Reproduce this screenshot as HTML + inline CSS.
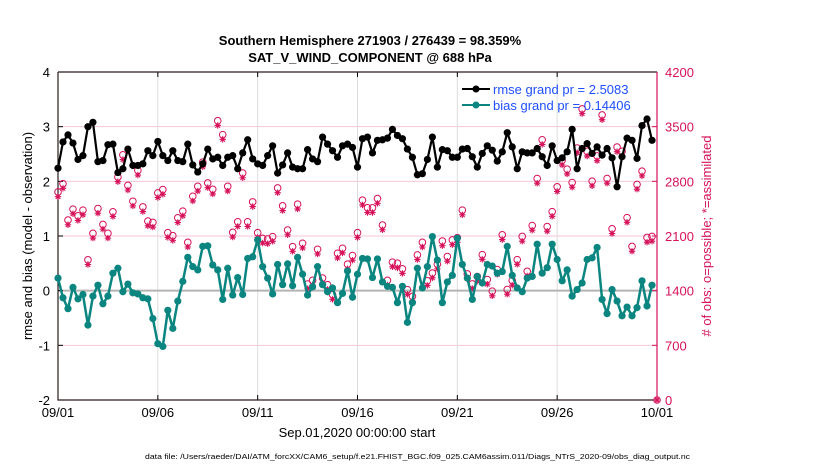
<!DOCTYPE html>
<html><head><meta charset="utf-8"><style>
body{margin:0;background:#fff;}
svg{display:block;font-family:"Liberation Sans",Arial,sans-serif;}
</style></head><body>
<svg id="chart" width="830" height="470" viewBox="0 0 830 470">
<rect x="0" y="0" width="830" height="470" fill="#fff"/>
<text x="370" y="45" text-anchor="middle" font-size="13" font-weight="bold">Southern Hemisphere 271903 / 276439 = 98.359%</text>
<text x="370" y="62" text-anchor="middle" font-size="13" font-weight="bold">SAT_V_WIND_COMPONENT @ 688 hPa</text>
<g id="grid"></g>
<g id="axes"></g>
<g id="obs"></g>
<g id="lines"></g>
<text transform="translate(32,236) rotate(-90)" text-anchor="middle" font-size="13">rmse and bias (model - observation)</text>
<text transform="translate(711,236) rotate(-90)" text-anchor="middle" font-size="13" fill="#d6125a"># of obs: o=possible; *=assimilated</text>
<text x="357" y="437" text-anchor="middle" font-size="13">Sep.01,2020 00:00:00 start</text>
<text x="145" y="459" font-size="7.5" textLength="545" lengthAdjust="spacingAndGlyphs">data file: /Users/raeder/DAI/ATM_forcXX/CAM6_setup/f.e21.FHIST_BGC.f09_025.CAM6assim.011/Diags_NTrS_2020-09/obs_diag_output.nc</text>
<g>
<g>
<line x1="462" y1="89" x2="490" y2="89" stroke="#000" stroke-width="2"/>
<circle cx="476" cy="89" r="3.5" fill="#000"/>
<text x="493" y="94" font-size="13" fill="#1f4fff">rmse grand pr = 2.5083</text></g>
<g>
<line x1="462" y1="105" x2="490" y2="105" stroke="#0a8580" stroke-width="2"/>
<circle cx="476" cy="105" r="3.5" fill="#0a8580"/>
<text x="493" y="110" font-size="13" fill="#1f4fff">bias grand pr = 0.14406</text></g>
</g>
</svg>
<script>
const xTickLabels=["09/01","09/06","09/11","09/16","09/21","09/26","10/01"];
const leftTicks=[-2,-1,0,1,2,3,4];
const rightTicks=[0,700,1400,2100,2800,3500,4200];
const rmse=[2.24,2.72,2.85,2.70,2.40,2.47,3.00,3.08,2.36,2.38,2.67,2.68,2.16,2.23,2.59,2.29,2.29,2.32,2.56,2.47,2.73,2.47,2.38,2.56,2.38,2.36,2.68,2.30,2.17,2.32,2.59,2.41,2.44,2.29,2.44,2.47,2.23,2.52,2.76,2.41,2.32,2.29,
2.47,2.65,2.15,2.30,2.52,2.26,2.23,2.23,2.58,2.41,2.36,2.81,2.68,2.56,2.44,2.65,2.68,2.62,2.26,2.78,2.81,2.52,2.75,2.76,2.79,2.95,2.84,2.78,2.59,2.44,2.12,2.14,2.40,2.81,2.26,2.58,2.56,2.44,2.44,2.59,
2.60,2.45,2.26,2.51,2.65,2.57,2.37,2.54,2.89,2.63,2.23,2.54,2.52,2.52,2.60,2.45,2.29,2.65,2.38,2.43,2.54,2.95,2.23,2.60,2.69,2.51,2.63,2.48,2.60,2.43,1.90,2.45,2.79,2.75,2.42,3.02,3.14,2.75];
const bias=[0.23,-0.13,-0.33,0.06,-0.15,-0.07,-0.63,-0.10,0.10,-0.24,-0.10,0.32,0.41,-0.02,0.12,-0.04,-0.06,-0.13,-0.15,-0.51,-0.97,-1.02,-0.36,-0.69,-0.19,0.17,0.61,0.44,0.38,0.81,0.82,0.47,0.38,-0.16,0.41,-0.08,0.24,-0.07,0.59,0.62,0.93,0.44,
0.23,-0.06,0.48,0.11,0.49,0.09,0.61,0.30,-0.08,0.07,0.44,0.11,-0.02,0.05,-0.22,-0.05,0.36,-0.12,0.30,0.59,0.58,0.24,0.58,0.16,0.08,0.06,-0.22,0.08,-0.58,-0.22,0.41,0.05,0.44,0.99,0.56,-0.22,0.16,0.28,0.96,0.48,
0.23,-0.16,0.26,0.14,0.48,0.45,0.32,0.35,0.81,0.28,0.05,-0.02,0.23,0.26,0.85,0.32,0.42,0.85,0.57,0.18,0.38,-0.10,0.02,0.14,0.57,0.60,0.79,-0.16,-0.42,0.02,-0.19,-0.46,-0.30,-0.46,-0.31,0.18,-0.28,0.10];
const obsPossible=[2664,2770,2304,2444,2359,2431,1795,2134,2452,2248,2134,2410,2855,3139,2749,2545,2940,2473,2291,2274,2652,2694,2142,2104,2333,2418,2019,2609,2736,3046,2779,2698,3576,3398,2736,2147,2282,2906,2282,2537,2142,2070,
2062,2092,2715,2486,2176,1964,2507,2007,1485,1532,1930,1561,1476,1349,1879,1943,1739,1850,2142,2558,2461,2461,2579,2240,1532,1765,1752,1680,1413,1328,1858,2019,1527,1625,1739,2036,1837,2049,2079,2431,
1614,1487,1581,1861,1543,1394,1670,2115,1415,1530,1797,2094,1648,2234,2836,3332,2221,2412,2730,3070,2955,2785,3226,3727,3184,2802,3125,3650,2836,2192,3239,3184,2335,1966,2760,2930,2081,2094,0];
const obsAssim=[2604,2710,2244,2384,2299,2371,1735,2074,2392,2188,2074,2350,2795,3079,2689,2485,2880,2413,2231,2214,2592,2634,2082,2044,2273,2358,1959,2549,2676,2986,2719,2638,3516,3338,2676,2087,2222,2846,2222,2477,2082,2010,
2002,2032,2655,2426,2116,1904,2447,1947,1425,1472,1870,1501,1416,1289,1819,1883,1679,1790,2082,2498,2401,2401,2519,2180,1472,1705,1692,1620,1353,1268,1798,1959,1467,1565,1679,1976,1777,1989,2019,2371,
1554,1427,1521,1801,1483,1334,1610,2055,1355,1470,1737,2034,1588,2174,2776,3272,2161,2352,2670,3010,2895,2725,3166,3667,3124,2742,3065,3590,2776,2132,3179,3124,2275,1906,2700,2870,2021,2034,0];

const NS="http://www.w3.org/2000/svg";
const L=58,R=657,T=72,B=400;
const xS=i=>L+i*(R-L)/120;
const yL=v=>B-(v+2)*(B-T)/6;
const yR=c=>B-c*(B-T)/4200;
function mk(tag,attrs,parent){const e=document.createElementNS(NS,tag);for(const k in attrs)e.setAttribute(k,attrs[k]);parent.appendChild(e);return e;}
const grid=document.getElementById('grid'),axes=document.getElementById('axes'),obs=document.getElementById('obs'),lines=document.getElementById('lines');
const MAG="#d6125a";
leftTicks.forEach(v=>{
  if(v>-2&&v<4&&v!==0){const g=mk('line',{x1:L,x2:R,y1:yL(v),y2:yL(v),stroke:'#f5c6d8','stroke-width':1},grid);
  
  }
  const t=mk('text',{x:L-8,y:yL(v)+5,'text-anchor':'end','font-size':13},axes);t.textContent=v;
  
  
  const tk=mk('line',{x1:L,x2:L+5,y1:yL(v),y2:yL(v),stroke:'#000'},axes);
  
  
});
xTickLabels.forEach((lab,k)=>{
  const x=xS(k*20);
  if(k>0&&k<6){const g=mk('line',{x1:x,x2:x,y1:T,y2:B,stroke:'#dcdcdc','stroke-width':1},grid);
  
  }
  const tk=mk('line',{x1:x,x2:x,y1:B,y2:B-5,stroke:'#000'},axes);
  
  
  const tt=mk('line',{x1:x,x2:x,y1:T,y2:T+5,stroke:'#000'},axes);
  
  
  const t=mk('text',{x:x,y:B+17,'text-anchor':'middle','font-size':13},axes);t.textContent=lab;
  
  
});
rightTicks.forEach(c=>{
  const t=mk('text',{x:R+8,y:yR(c)+5,'font-size':13,fill:MAG},axes);t.textContent=c;
  
  
  const tk=mk('line',{x1:R-5,x2:R,y1:yR(c),y2:yR(c),stroke:MAG},axes);
  
  
});
const zl=mk('line',{x1:L,x2:R,y1:yL(0),y2:yL(0),stroke:'#b4b4b4','stroke-width':2},grid);


const ax1=mk('path',{d:`M${L},${T}L${L},${B}L${R},${B}M${L},${T}L${R},${T}`,fill:'none',stroke:'#2a1a1a','stroke-width':1.2},axes);


const ax2=mk('line',{x1:R,x2:R,y1:T,y2:B,stroke:MAG,'stroke-width':1.2},axes);



obsPossible.forEach((c,i)=>{
  const e=mk('circle',{cx:xS(i),cy:yR(c),r:3.3,fill:'none',stroke:MAG,'stroke-width':1},obs);
  
  
});
obsAssim.forEach((c,i)=>{
  const x=xS(i),y=yR(c),s=3.2,d=2.3;
  const e=mk('path',{d:`M${x-s},${y}H${x+s}M${x},${y-s}V${y+s}M${x-d},${y-d}L${x+d},${y+d}M${x-d},${y+d}L${x+d},${y-d}`,stroke:MAG,'stroke-width':1.1,fill:'none'},obs);
  
  
});
function series(vals,color,name,w){
  const p=mk('polyline',{points:vals.map((v,i)=>xS(i)+','+yL(v)).join(' '),fill:'none',stroke:color,'stroke-width':w,'stroke-linejoin':'round'},lines);
  
  
  vals.forEach((v,i)=>{
    const c=mk('circle',{cx:xS(i),cy:yL(v),r:3.6,fill:color},lines);
    
    
  });
}
series(bias,'#0a8580','bias',2.5);
series(rmse,'#000','rmse',2.2);
</script>
</body></html>
